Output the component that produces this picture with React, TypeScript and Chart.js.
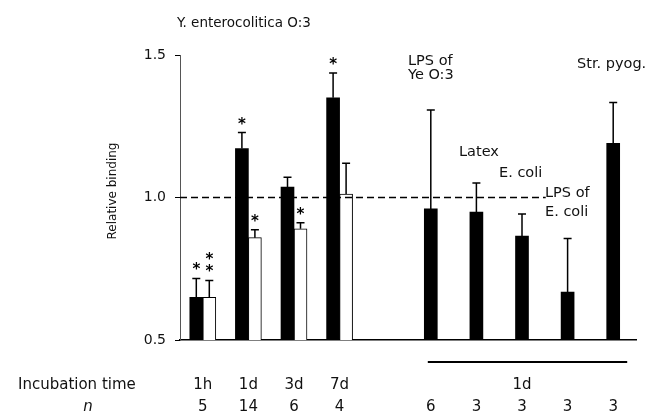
import React, { useEffect, useRef } from "react";
import { Chart, registerables } from "chart.js";

Chart.register(...registerables);

const categories = ["1h", "1d", "3d", "7d", "", "LPS of Ye O:3", "Latex", "E. coli", "LPS of E. coli", "Str. pyog."];
const blackValues = [0.65, 1.172, 1.037, 1.35, null, 0.96, 0.949, 0.865, 0.668, 1.19];
const blackErrors = [0.066, 0.056, 0.034, 0.087, null, 0.347, 0.102, 0.077, 0.188, 0.143];
const whiteValues = [0.65, 0.859, 0.89, 1.012, null, null, null, null, null, null];
const whiteErrors = [0.059, 0.028, 0.021, 0.108, null, null, null, null, null, null];
const blackStars = [1, 1, 0, 1, 0, 0, 0, 0, 0, 0];
const whiteStars = [2, 1, 1, 0, 0, 0, 0, 0, 0, 0];
const incubationLabels = ["1h", "1d", "3d", "7d", "", "", "", "1d", "", ""];
const nLabels = ["5", "14", "6", "4", "", "6", "3", "3", "3", "3"];
const yTicks = [0.5, 1.0, 1.5];
const referenceValue = 1.0;

const FONT = "'DejaVu Sans', sans-serif";

const overlayPlugin = {
  id: "overlay",
  afterDatasetsDraw(chart: any) {
    const ctx = chart.ctx;
    const x = chart.scales.x;
    const y = chart.scales.y;
    ctx.save();
    // dashed reference line
    ctx.strokeStyle = "#000";
    ctx.lineWidth = 1.5;
    ctx.setLineDash([7, 4]);
    const yRef = y.getPixelForValue(referenceValue);
    ctx.beginPath();
    ctx.moveTo(chart.chartArea.left, yRef);
    ctx.lineTo(x.getPixelForValue(7.52), yRef);
    ctx.stroke();
    ctx.setLineDash([]);

    const sets = [
      { values: blackValues, errors: blackErrors, stars: blackStars },
      { values: whiteValues, errors: whiteErrors, stars: whiteStars },
    ];
    sets.forEach((s, di) => {
      const meta = chart.getDatasetMeta(di);
      meta.data.forEach((bar: any, i: number) => {
        const v = s.values[i];
        const e = s.errors[i];
        if (v == null || e == null) return;
        const top = y.getPixelForValue(v + e);
        ctx.strokeStyle = "#000";
        ctx.lineWidth = 1.5;
        ctx.beginPath();
        ctx.moveTo(bar.x, bar.y);
        ctx.lineTo(bar.x, top);
        ctx.moveTo(bar.x - 4, top);
        ctx.lineTo(bar.x + 4, top);
        ctx.stroke();
        const n = s.stars[i];
        ctx.fillStyle = "#000";
        ctx.font = `bold 15px ${FONT}`;
        ctx.textAlign = "center";
        ctx.textBaseline = "alphabetic";
        for (let k = 0; k < n; k++) {
          const cy = top - 13 - k * 12;
          ctx.fillText("*", bar.x, cy + 9);
        }
      });
    });
    ctx.restore();
  },
  afterDraw(chart: any) {
    const ctx = chart.ctx;
    const x = chart.scales.x;
    ctx.save();
    ctx.fillStyle = "#111";
    ctx.textBaseline = "middle";

    // title
    ctx.font = `13.5px ${FONT}`;
    ctx.textAlign = "left";
    ctx.fillText("Y. enterocolitica O:3", 177, 23);

    // annotations
    ctx.font = `14.5px ${FONT}`;
    ctx.fillText("LPS of", 408, 61);
    ctx.fillText("Ye O:3", 408, 75);
    ctx.fillText("Str. pyog.", 577, 64);
    ctx.fillText("Latex", 459, 152);
    ctx.fillText("E. coli", 499, 173);
    ctx.fillText("LPS of", 545, 193);
    ctx.fillText("E. coli", 545, 212);

    // y axis title
    ctx.save();
    ctx.translate(113, 191);
    ctx.rotate(-Math.PI / 2);
    ctx.textAlign = "center";
    ctx.font = `12px ${FONT}`;
    ctx.fillText("Relative binding", 0, 0);
    ctx.restore();

    // group bar under right group
    ctx.strokeStyle = "#000";
    ctx.lineWidth = 2;
    ctx.beginPath();
    ctx.moveTo(x.getPixelForValue(5) - 3, 362);
    ctx.lineTo(x.getPixelForValue(9) + 14, 362);
    ctx.stroke();

    // bottom labels
    ctx.font = `15px ${FONT}`;
    ctx.textAlign = "left";
    ctx.fillText("Incubation time", 18, 385);
    ctx.font = `italic 15px ${FONT}`;
    ctx.textAlign = "center";
    ctx.fillText("n", 88, 407);
    ctx.font = `15px ${FONT}`;
    incubationLabels.forEach((l, i) => {
      if (l) ctx.fillText(l, x.getPixelForValue(i), 385);
    });
    nLabels.forEach((l, i) => {
      if (l) ctx.fillText(l, x.getPixelForValue(i), 407);
    });
    ctx.restore();
  },
};

export default function App() {
  const ref = useRef<HTMLCanvasElement | null>(null);
  useEffect(() => {
    if (!ref.current) return;
    const chart = new Chart(ref.current, {
      type: "bar",
      data: {
        labels: categories,
        datasets: [
          {
            label: "black",
            data: blackValues,
            backgroundColor: "#000",
            borderColor: "#000",
            borderWidth: 0,
          },
          {
            label: "white",
            data: whiteValues,
            backgroundColor: "#fff",
            borderColor: "#000",
            borderWidth: 1,
          },
        ],
      },
      options: {
        responsive: false,
        animation: false,
        devicePixelRatio: 1,
        datasets: { bar: { skipNull: true, barThickness: 13 } } as any,
        layout: { padding: { left: 0, top: 55, right: 14, bottom: 80 } },
        plugins: { legend: { display: false }, tooltip: { enabled: false }, title: { display: false } },
        scales: {
          x: {
            type: "category",
            offset: true,
            ticks: { display: false },
            grid: { display: false, drawTicks: false },
            border: { display: true, color: "#000", width: 1.5 },
            afterFit: (s: any) => {
              s.height = 0;
            },
          },
          y: {
            min: 0.5,
            max: 1.5,
            afterBuildTicks: (s: any) => {
              s.ticks = yTicks.map((v) => ({ value: v }));
            },
            ticks: {
              font: { family: FONT, size: 14 },
              color: "#111",
              padding: 9,
              callback: (v: any) => Number(v).toFixed(1),
            },
            grid: { drawOnChartArea: false, tickLength: 5, color: "#000", lineWidth: 1 },
            border: { display: true, color: "#555", width: 1 },
            afterFit: (s: any) => {
              s.width = 180;
            },
          },
        },
      },
      plugins: [overlayPlugin],
    });
    return () => chart.destroy();
  }, []);
  return (
    <div style={{ position: "absolute", left: 0, top: 0, width: 650, height: 420, background: "#fff" }}>
      <canvas ref={ref} width={650} height={420} style={{ display: "block" }} />
    </div>
  );
}
